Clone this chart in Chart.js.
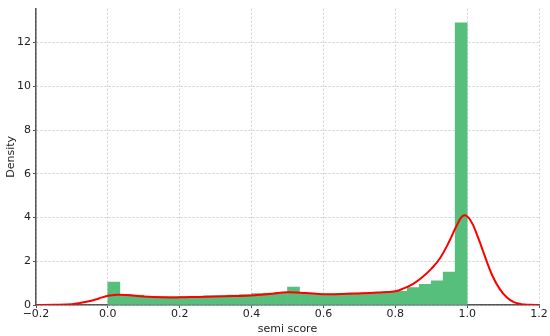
<!DOCTYPE html>
<html>
<head>
<meta charset="utf-8">
<script src="https://cdn.jsdelivr.net/npm/chart.js@4"></script>
<style>
  html, body { margin:0; padding:0; background:#fff; }
  #wrap { width:550px; height:336px; position:relative; }
</style>
</head>
<body>
<div id="wrap"><canvas id="hist"></canvas></div>
<script>
// Histogram of semi score (30 bins over 0..1), density scale
const binStart = 0;
const binWidth = 1 / 30;
const density = [
  1.05, 0.48, 0.45, 0.40, 0.38, 0.38, 0.38, 0.40, 0.42, 0.42,
  0.45, 0.48, 0.52, 0.55, 0.58, 0.82, 0.55, 0.50, 0.50, 0.52,
  0.55, 0.55, 0.58, 0.60, 0.62, 0.80, 0.95, 1.10, 1.50, 12.9
];

// KDE curve
const kdeX = [-0.2, -0.15, -0.1, -0.075, -0.05, -0.025, 0, 0.025, 0.05, 0.1,
  0.15, 0.2, 0.25, 0.3, 0.35, 0.4, 0.45, 0.5, 0.55, 0.6,
  0.65, 0.7, 0.75, 0.8, 0.825, 0.85, 0.875, 0.9, 0.925, 0.95,
  0.97, 0.99, 1.01, 1.03, 1.05, 1.07, 1.09, 1.11, 1.13, 1.15,
  1.175, 1.2];
const kdeY = [0, 0.01, 0.04, 0.1, 0.18, 0.3, 0.42, 0.47, 0.46, 0.39,
  0.35, 0.35, 0.37, 0.39, 0.41, 0.43, 0.50, 0.58, 0.55, 0.49,
  0.50, 0.53, 0.57, 0.63, 0.77, 0.97, 1.27, 1.65, 2.15, 2.90,
  3.60, 4.09, 3.85, 3.10, 2.20, 1.35, 0.75, 0.35, 0.13, 0.04,
  0.01, 0];

const xTicks = [-0.2, 0, 0.2, 0.4, 0.6, 0.8, 1.0, 1.2];
const yTicks = [0, 2, 4, 6, 8, 10, 12];

const green = '#55bf7b';
const red = '#ff0000';
const axisColor = '#555555';
const gridColor = '#cfcfcf';
const textColor = '#222222';
const font = { family: 'DejaVu Sans', size: 11 };

const barData = density.map((v, i) => ({ x: binStart + (i + 0.5) * binWidth, y: v }));
const lineData = kdeX.map((x, i) => ({ x: x, y: kdeY[i] }));

const fmtX = v => {
  const s = Math.abs(v).toFixed(1);
  return v < 0 ? '\u2212' + s : s;
};

new Chart(document.getElementById('hist'), {
  type: 'bar',
  data: {
    datasets: [
      {
        type: 'line', label: 'kde', data: lineData, order: 0,
        borderColor: red, borderWidth: 2, pointRadius: 0,
        tension: 0.4, fill: false
      },
      {
        label: 'semi score', data: barData, order: 1,
        backgroundColor: green, borderWidth: 0,
        barPercentage: 1.0, categoryPercentage: 1.0
      }
    ]
  },
  options: {
    responsive: true,
    maintainAspectRatio: false,
    animation: false,
    layout: { padding: { left: 0, right: 11, top: 5, bottom: 0 } },
    plugins: { legend: { display: false }, tooltip: { enabled: false } },
    scales: {
      x: {
        type: 'linear', min: -0.2, max: 1.2, offset: false,
        afterBuildTicks: s => { s.ticks = xTicks.map(v => ({ value: v })); },
        afterFit: s => { s.height = 31; },
        ticks: { color: textColor, font: font, padding: 0, maxRotation: 0, callback: fmtX },
        grid: {
          offset: false, color: gridColor, lineWidth: 1,
          drawTicks: true, tickLength: 3, tickColor: axisColor, tickBorderDash: []
        },
        border: { display: true, color: axisColor, width: 1.5, dash: [2, 2] },
        title: { display: true, text: 'semi score', color: textColor, font: font, padding: { top: 0, bottom: 0 } }
      },
      y: {
        type: 'linear', min: 0, max: 13.55,
        afterBuildTicks: s => { s.ticks = yTicks.map(v => ({ value: v })); },
        afterFit: s => { s.width = 36; },
        ticks: { color: textColor, font: font, padding: 2, callback: v => String(v) },
        grid: {
          color: gridColor, lineWidth: 1,
          drawTicks: true, tickLength: 3, tickColor: axisColor, tickBorderDash: []
        },
        border: { display: true, color: axisColor, width: 1.5, dash: [2, 2] },
        title: { display: true, text: 'Density', color: textColor, font: font, padding: { top: 5, bottom: 0 } }
      }
    }
  }
});
</script>
</body>
</html>
